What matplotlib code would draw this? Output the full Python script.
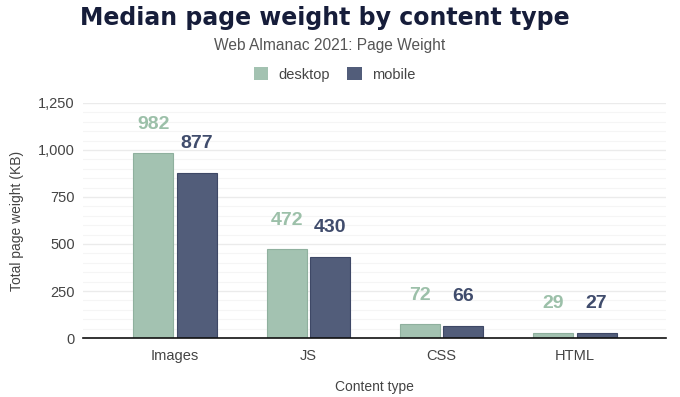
import matplotlib
matplotlib.use("Agg")
import matplotlib.pyplot as plt
import numpy as np
from matplotlib.ticker import FuncFormatter, MultipleLocator
from matplotlib.patches import Patch

# Median page weight (KB) per content type
categories = ['Images', 'JS', 'CSS', 'HTML']
desktop = [982, 472, 72, 29]
mobile = [877, 430, 66, 27]

plt.rcParams['font.family'] = ['Liberation Sans', 'DejaVu Sans']

green = '#a3c2b1'
navy = '#525d7a'

fig = plt.figure(figsize=(6.8, 3.97), dpi=100)
ax = fig.add_axes([0.122, 0.1486, 0.857, 0.592])

x = np.arange(len(categories))
w = 0.30
b1 = ax.bar(x - 0.162, desktop, w, color=green, edgecolor='#8fb09e', linewidth=0.8)
b2 = ax.bar(x + 0.162, mobile, w, color=navy, edgecolor='#3e4866', linewidth=0.8)

for rect, v in zip(b1, desktop):
    ax.annotate(str(v), (rect.get_x() + rect.get_width() / 2, v), xytext=(0, 21),
                textcoords='offset points', ha='center', va='center',
                fontsize=14, fontweight='bold', color='#9cc0a9')
for rect, v in zip(b2, mobile):
    ax.annotate(str(v), (rect.get_x() + rect.get_width() / 2, v), xytext=(0, 21),
                textcoords='offset points', ha='center', va='center',
                fontsize=14, fontweight='bold', color='#404c6c')

ax.set_xlim(-0.69, 3.68)
ax.set_ylim(0, 1250)
ax.yaxis.set_major_locator(MultipleLocator(250))
ax.yaxis.set_minor_locator(MultipleLocator(50))
ax.yaxis.set_major_formatter(FuncFormatter(lambda v, p: f'{int(v):,}'))
ax.grid(axis='y', which='major', color='#ebebeb', linewidth=1)
ax.grid(axis='y', which='minor', color='#f5f5f5', linewidth=0.8)
ax.set_axisbelow(True)

ax.set_xticks(x)
ax.set_xticklabels(categories)
ax.tick_params(axis='both', which='both', length=0, labelsize=10.5, labelcolor='#444444')
ax.tick_params(axis='x', pad=8)
ax.tick_params(axis='y', pad=6)
for s in ['top', 'right', 'left']:
    ax.spines[s].set_visible(False)
ax.spines['bottom'].set_color('#111111')
ax.spines['bottom'].set_linewidth(1.2)

ax.set_ylabel('Total page weight (KB)', fontsize=10, color='#444444', labelpad=10)
ax.set_xlabel('Content type', fontsize=10, color='#444444', labelpad=12)

fig.text(0.478, 0.955, 'Median page weight by content type', ha='center', va='center',
         fontsize=17, fontweight='heavy', color='#161d3a', family=['DejaVu Sans'])
fig.text(0.485, 0.885, 'Web Almanac 2021: Page Weight', ha='center', va='center',
         fontsize=11.2, color='#555555')

handles = [Patch(facecolor=green, label='desktop'), Patch(facecolor=navy, label='mobile')]
fig.legend(handles=handles, loc='center', bbox_to_anchor=(0.492, 0.812), ncol=2,
           frameon=False, fontsize=10.5, handlelength=1.0, handleheight=1.0,
           handletextpad=0.7, columnspacing=1.2, labelcolor='#444444')

fig.savefig('out.png', dpi=100)
